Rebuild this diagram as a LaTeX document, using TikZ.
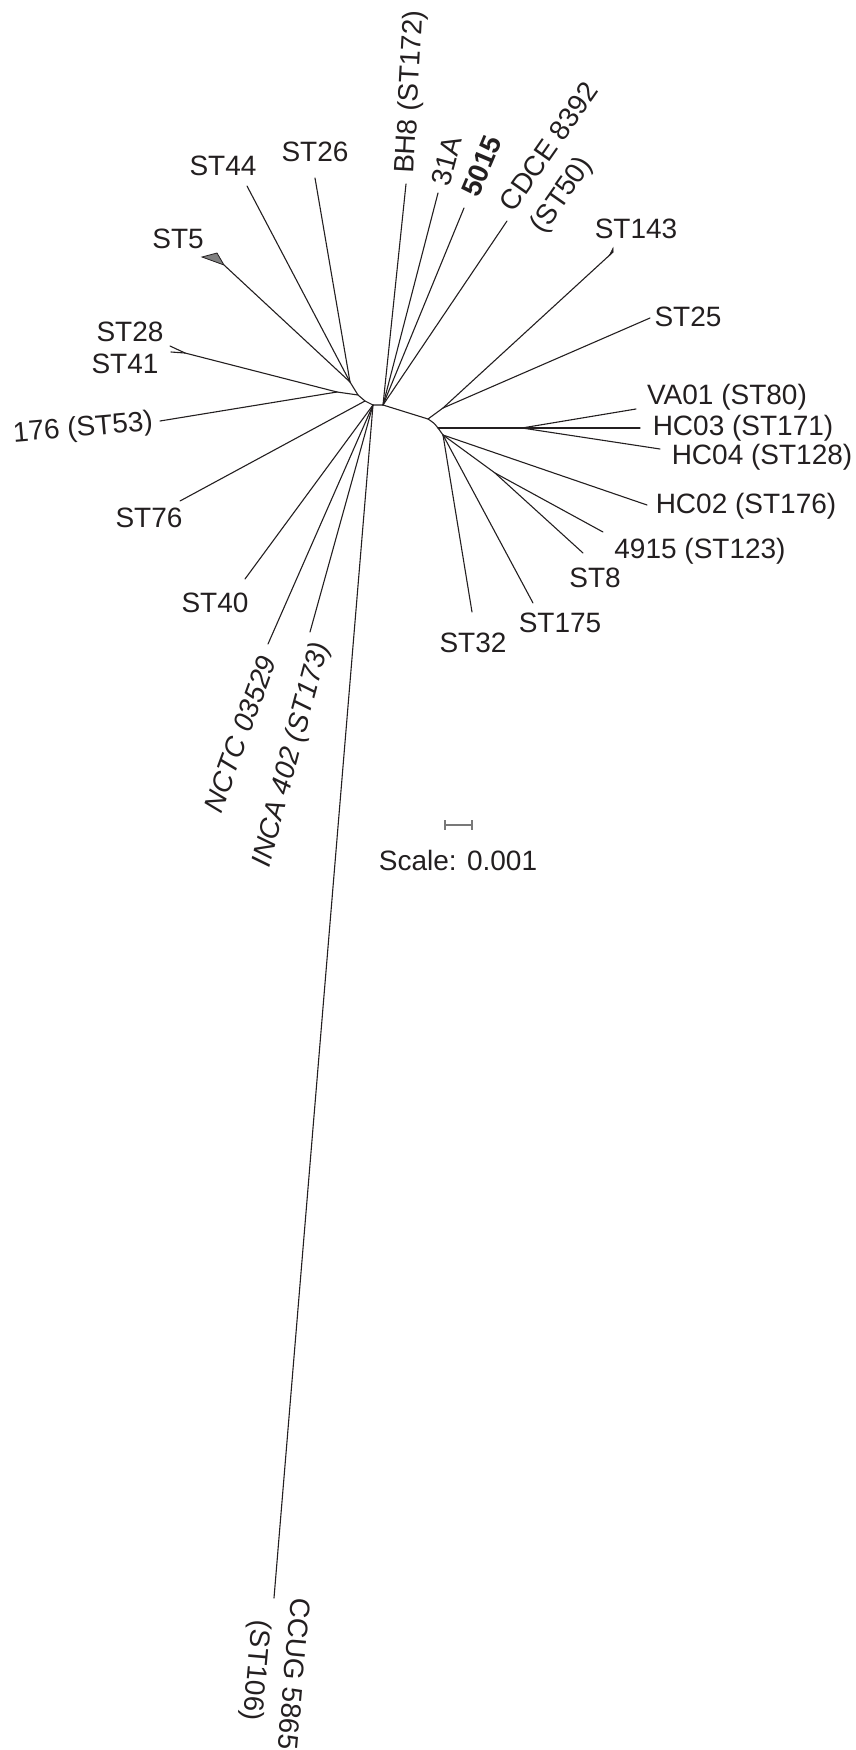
\documentclass[tikz,border=0pt]{standalone}
\usepackage{fontspec}
\setmainfont{Liberation Sans}
\definecolor{ink}{RGB}{35,31,32}
\definecolor{barc}{RGB}{120,120,120}
\definecolor{tri}{RGB}{128,128,128}
\begin{document}
\begin{tikzpicture}[x=1pt,y=-1pt,
  br/.style={draw=ink, line width=1.1pt, line cap=round},
  lab/.style={inner sep=0pt, text=ink, font=\fontsize{28}{37}\selectfont},
  sbar/.style={draw=barc, line width=1.3pt}]
\useasboundingbox (0,0) rectangle (856,1750);
% internal nodes
\coordinate (G) at (350,382);
\coordinate (F) at (337,392);
\coordinate (E) at (358,395);
\coordinate (D) at (365,401);
\coordinate (A) at (373,405);
\coordinate (B) at (383,405);
\coordinate (C) at (428,419);
\coordinate (K) at (443,408);
\coordinate (L) at (438,428);
\coordinate (M) at (522,428);
\coordinate (N) at (443,435);
\coordinate (P) at (495,473);
\coordinate (Q) at (185,353);
% tips
\coordinate (tST26) at (315,178);
\coordinate (tST44) at (247,186);
\coordinate (tST5) at (224,265);
\coordinate (tST5a) at (202,257);
\coordinate (tST5b) at (217,253);
\coordinate (tST28) at (170,346);
\coordinate (tST41) at (171,352);
\coordinate (tST53) at (160,421);
\coordinate (tST76) at (180,501);
\coordinate (tST40) at (245,579);
\coordinate (tNCTC) at (268,644);
\coordinate (tINCA) at (310,632);
\coordinate (tCCUG) at (274,1598);
\coordinate (tST32) at (472,612);
\coordinate (tST175) at (533,603);
\coordinate (tST8) at (583,553);
\coordinate (t4915) at (603,532);
\coordinate (tHC02) at (647,505);
\coordinate (tHC04) at (660,449);
\coordinate (tHC03) at (640,428);
\coordinate (tVA01) at (636,409);
\coordinate (tST25) at (650,318);
\coordinate (tST143) at (613,252);
\coordinate (tST143a) at (609,256);
\coordinate (tST143b) at (613,248);
\coordinate (tCDCE) at (507,221);
\coordinate (t5015) at (464,208);
\coordinate (t31A) at (438,193);
\coordinate (tBH8) at (406,184);
% branches
\draw[br] (G) -- (tST26);
\draw[br] (G) -- (tST44);
\draw[br] (G) -- (tST5);
\filldraw[fill=tri, draw=ink, line width=0.8pt] (tST5) -- (tST5a) -- (tST5b) -- cycle;
\draw[br] (F) -- (Q) -- (tST28);
\draw[br] (Q) -- (tST41);
\draw[br] (F) -- (tST53);
\draw[br] (G) -- (E);
\draw[br] (F) -- (E) -- (D) -- (A) -- (B);
\draw[br] (D) -- (tST76);
\draw[br] (A) -- (tST40);
\draw[br] (A) -- (tNCTC);
\draw[br] (A) -- (tINCA);
\draw[br] (A) -- (tCCUG);
\draw[br] (B) -- (tBH8);
\draw[br] (B) -- (t31A);
\draw[br] (B) -- (t5015);
\draw[br] (B) -- (tCDCE);
\draw[br] (B) -- (C) -- (K) -- (tST143);
\filldraw[fill=ink, draw=ink, line width=0.5pt] (tST143) -- (tST143a) -- (tST143b) -- cycle;
\draw[br] (K) -- (tST25);
\draw[br] (C) .. controls (434,423) .. (L) -- (N);
\draw[br] (L) -- (M) -- (tHC03);
\draw[br] (M) -- (tVA01);
\draw[br] (M) -- (tHC04);
\draw[br] (N) -- (tHC02);
\draw[br] (N) -- (P) -- (t4915);
\draw[br] (P) -- (tST8);
\draw[br] (N) -- (tST175);
\draw[br] (N) -- (tST32);
% labels
\node[lab] (lST26) at (315,152) {ST26};
\node[lab] (lST44) at (223,166) {ST44};
\node[lab] (lST5) at (178,239) {ST5};
\node[lab] (lST28) at (130,332) {ST28};
\node[lab] (lST41) at (125,364) {ST41};
\node[lab, rotate=5] (lST53) at (83,429) {176 (ST53)};
\node[lab] (lST76) at (149,518) {ST76};
\node[lab] (lST40) at (215,603) {ST40};
\node[lab, rotate=70, font=\fontsize{28}{37}\selectfont\itshape] (lNCTC) at (240,734) {NCTC 03529};
\node[lab, rotate=75, font=\fontsize{28}{37}\selectfont\itshape] (lINCA) at (292,755) {INCA 402 (ST173)};
\node[lab, rotate=-95, align=center] (lCCUG) at (273,1672) {CCUG 5865\\(ST106)};
\node[lab] (lST32) at (473,643) {ST32};
\node[lab] (lST175) at (560,623) {ST175};
\node[lab] (lST8) at (595,578) {ST8};
\node[lab] (l4915) at (700,551) {4915 (ST123)};
\node[lab] (lHC02) at (746,506) {HC02 (ST176)};
\node[lab] (lHC04) at (762,457) {HC04 (ST128)};
\node[lab] (lHC03) at (743,428) {HC03 (ST171)};
\node[lab] (lVA01) at (727,397) {VA01 (ST80)};
\node[lab] (lST25) at (688,317) {ST25};
\node[lab] (lST143) at (636,229) {ST143};
\node[lab, rotate=55, align=left] (lCDCE) at (566,159) {CDCE 8392\\(ST50)};
\node[lab, rotate=67, font=\fontsize{28}{37}\selectfont\bfseries] (l5015) at (482,166) {5015};
\node[lab, rotate=75] (l31A) at (447,161) {31A};
\node[lab, rotate=87] (lBH8) at (411,92) {BH8 (ST172)};
% scale bar
\coordinate (sbL) at (445,825);
\coordinate (sbR) at (472,825);
\draw[sbar] (sbL) -- (sbR);
\draw[sbar] ([yshift=5pt]sbL) -- ([yshift=-5pt]sbL);
\draw[sbar] ([yshift=5pt]sbR) -- ([yshift=-5pt]sbR);
\node[lab] (lscale) at (458,860) {Scale: 0.001};
\end{tikzpicture}
\end{document}
